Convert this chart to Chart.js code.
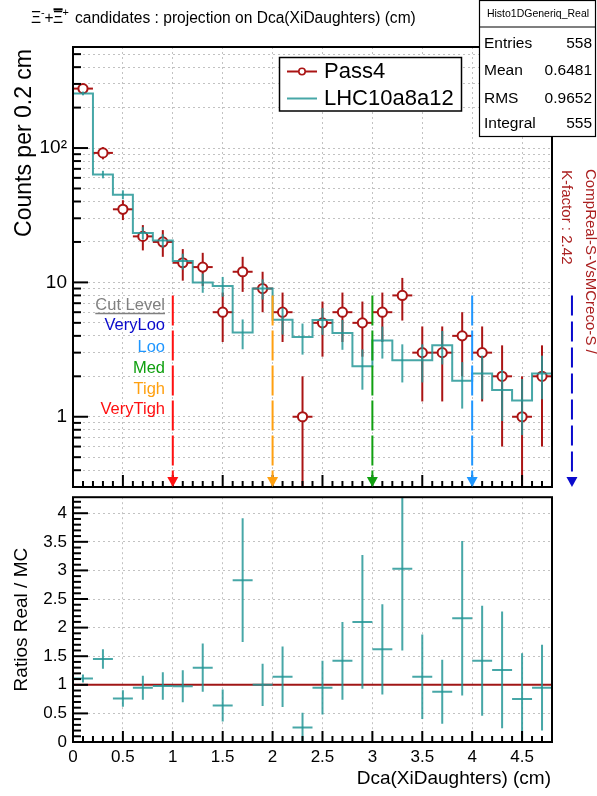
<!DOCTYPE html>
<html><head><meta charset="utf-8">
<script src="https://cdn.jsdelivr.net/npm/chart.js@4.4.1/dist/chart.umd.min.js"></script>
<style>
html,body{margin:0;padding:0;background:#fff;width:597px;height:796px;overflow:hidden}
canvas{position:absolute;left:0}
#topc{top:0}
#botc{top:481px}
</style></head><body>
<canvas id="topc" width="597" height="507"></canvas>
<canvas id="botc" width="597" height="316"></canvas>
<script>
const FONT = '"Liberation Sans", Arial, Helvetica, sans-serif';

// ---------------- data ----------------
const xMin = 0, xMax = 4.8;
const binWidth = 0.2;
const binCenters = [0.1,0.3,0.5,0.7,0.9,1.1,1.3,1.5,1.7,1.9,2.1,2.3,2.5,2.7,2.9,3.1,3.3,3.5,3.7,3.9,4.1,4.3,4.5,4.7];
const pass4    = [277,92,35,22,20,14,13,6,12,9,6,1,5,6,5,6,8,3,3,4,3,2,1,2];
const pass4Err = [16.6,9.6,5.9,4.7,4.5,3.7,3.6,2.4,3.5,3.0,2.4,1.0,2.2,2.4,2.2,2.4,2.8,1.7,1.7,2.0,1.7,1.4,1.0,1.4];
const mcLHC    = [255,63.6,45,23.3,20.5,14.4,10,9.4,4.24,9,5.27,3.92,5.25,4.2,2.38,3.7,2.63,2.63,3.4,1.85,2.1,1.58,1.32,2.1];
const mcErr    = [8.2,4.1,3.45,2.48,2.33,1.95,1.63,1.58,1.06,1.54,1.18,1.02,1.18,1.05,0.79,0.99,0.83,0.83,0.95,0.70,0.75,0.65,0.59,0.75];
const ratio    = [1.11,1.45,0.76,0.95,0.98,0.975,1.30,0.64,2.83,1.0,1.14,0.255,0.95,1.42,2.10,1.62,3.03,1.14,0.88,2.165,1.42,1.26,0.75,0.95];
const ratioErr = [0.07,0.17,0.145,0.21,0.24,0.28,0.42,0.28,1.08,0.37,0.53,0.255,0.47,0.68,1.17,0.79,1.43,0.74,0.56,1.35,0.96,1.02,0.80,0.75];

const yTopMin = 0.304, yTopMax = 565;
const yTopTicks = [0.4,0.5,0.6,0.7,0.8,0.9,1,2,3,4,5,6,7,8,9,10,20,30,40,50,60,70,80,90,100,200,300,400,500];
const yTopLabels = {1:'1', 10:'10', 100:'10\u00B2'};
const xTickLabels = [0,0.5,1,1.5,2,2.5,3,3.5,4,4.5];
const yBotMin = 0, yBotMax = 4.28;
const yBotTicks = [0,0.5,1,1.5,2,2.5,3,3.5,4];

const cutValues = [1,2,3,4,5];
const cutNames  = ['VeryTigh','Tigh','Med','Loo','VeryLoo'];
const cutArrowTop = 8;
const statsTitle = 'Histo1DGeneriq_Real';
const statsRows = [['Entries','558'],['Mean','0.6481'],['RMS','0.9652'],['Integral','555']];
const legendNames = ['Pass4','LHC10a8a12'];

// ---------------- styles ----------------
const RED = '#aa1414';
const TEAL = 'rgba(36,150,150,0.84)';
const GRID = '#c2c2c2';
const cutColors = {VeryTigh:'#ff1010', Tigh:'#ffa010', Med:'#10a010', Loo:'#1e96ff', VeryLoo:'#0a0acc'};
const cutDash = {VeryTigh:[30,5], Tigh:[30,5], Med:[30,5], Loo:[30,5], VeryLoo:[20,6]};

function seg(ctx,x1,y1,x2,y2){ctx.beginPath();ctx.moveTo(x1,y1);ctx.lineTo(x2,y2);ctx.stroke();}
function isDecade(v){const l=Math.log10(v);return Math.abs(l-Math.round(l))<1e-9;}
function fitFont(ctx, text, width){ ctx.font = `100px ${FONT}`; return 100*width/ctx.measureText(text).width; }

const stepPts = binCenters.map((c,i)=>({x:c-binWidth/2, y:mcLHC[i]}));
stepPts.push({x:binCenters[binCenters.length-1]+binWidth/2, y:mcLHC[mcLHC.length-1]});
const pass4Pts = binCenters.map((c,i)=>({x:c, y:pass4[i]}));

const topPlugin = {
  id:'topDeco',
  beforeDatasetsDraw(chart){
    const {ctx, chartArea:a, scales:{x,y}} = chart;
    ctx.save();
    ctx.beginPath(); ctx.rect(a.left,a.top,a.right-a.left,a.bottom-a.top); ctx.clip();
    ctx.strokeStyle = RED; ctx.lineWidth = 2;
    binCenters.forEach((c,i)=>{
      const v = pass4[i], e = pass4Err[i];
      const px = x.getPixelForValue(c), py = y.getPixelForValue(v);
      const lo = (v-e) > yTopMin ? y.getPixelForValue(v-e) : a.bottom+4;
      const hi = y.getPixelForValue(v+e);
      seg(ctx, px, lo, px, hi);
      seg(ctx, x.getPixelForValue(c-binWidth/2), py, x.getPixelForValue(c+binWidth/2), py);
    });
    ctx.restore();
  },
  afterDatasetsDraw(chart){
    const {ctx, chartArea:a, scales:{x,y}} = chart;
    ctx.save();
    ctx.beginPath(); ctx.rect(a.left,a.top,a.right-a.left,a.bottom-a.top); ctx.clip();
    ctx.strokeStyle = TEAL; ctx.lineWidth = 2;
    binCenters.forEach((c,i)=>{
      const v = mcLHC[i], e = mcErr[i];
      const px = x.getPixelForValue(c);
      const lo = (v-e) > yTopMin ? y.getPixelForValue(v-e) : a.bottom+4;
      seg(ctx, px, lo, px, y.getPixelForValue(v+e));
    });
    ctx.restore();
  },
  afterDraw(chart){
    const {ctx, chartArea:a, scales:{x,y}} = chart;
    ctx.save();
    // frame / axes
    ctx.strokeStyle = '#000'; ctx.lineWidth = 2;
    ctx.beginPath();
    ctx.moveTo(a.left,a.top); ctx.lineTo(a.left,a.bottom); ctx.lineTo(a.right,a.bottom); ctx.lineTo(a.right,a.top); ctx.closePath();
    ctx.stroke();
    // inward ticks
    ctx.lineWidth = 2;
    yTopTicks.forEach(v=>{ const py = y.getPixelForValue(v); seg(ctx, a.left, py, a.left+(isDecade(v)?15:8), py); });
    for(let k=1;k<48;k++){ const px = x.getPixelForValue(k*0.1); seg(ctx, px, a.bottom, px, a.bottom-(k%5===0?12:6)); }

    // cut arrows
    const pTop = y.getPixelForValue(cutArrowTop);
    cutValues.forEach((cv,i)=>{
      const name = cutNames[i], col = cutColors[name];
      const px = x.getPixelForValue(cv);
      ctx.strokeStyle = col; ctx.fillStyle = col; ctx.lineWidth = 2;
      ctx.setLineDash(cutDash[name]);
      seg(ctx, px, pTop, px, a.bottom-9);
      ctx.setLineDash([]);
      ctx.beginPath(); ctx.moveTo(px-5.5, a.bottom-10); ctx.lineTo(px+5.5, a.bottom-10); ctx.lineTo(px, a.bottom); ctx.closePath(); ctx.fill();
    });

    // cut level text
    ctx.textAlign = 'right'; ctx.textBaseline = 'middle';
    ctx.font = `16.5px ${FONT}`;
    ctx.fillStyle = '#808080';
    ctx.fillText('Cut Level', 165, 305);
    const wcl = ctx.measureText('Cut Level').width;
    ctx.strokeStyle = '#808080'; ctx.lineWidth = 1.5; seg(ctx, 165-wcl, 313.5, 165, 313.5);
    const rows = ['VeryLoo','Loo','Med','Tigh','VeryTigh'];
    const rowY = [325, 347, 368, 389, 409];
    rows.forEach((r,i)=>{ ctx.fillStyle = cutColors[r]; ctx.fillText(r, 165, rowY[i]); });

    // legend
    ctx.fillStyle = '#fff'; ctx.fillRect(279.5, 57.5, 182, 53.5);
    ctx.strokeStyle = '#000'; ctx.lineWidth = 1.5; ctx.strokeRect(279.5, 57.5, 182, 53.5);
    ctx.lineWidth = 2;
    ctx.strokeStyle = RED; seg(ctx, 287, 71.5, 317, 71.5);
    ctx.beginPath(); ctx.arc(302, 71.5, 3.2, 0, Math.PI*2); ctx.fillStyle='#fff'; ctx.fill(); ctx.lineWidth=1.6; ctx.stroke();
    ctx.lineWidth = 2; ctx.strokeStyle = TEAL; seg(ctx, 287, 98.5, 317, 98.5);
    ctx.fillStyle = '#000'; ctx.textAlign = 'left'; ctx.textBaseline = 'middle';
    ctx.font = `22px ${FONT}`;
    ctx.fillText(legendNames[0], 324, 72);
    ctx.fillText(legendNames[1], 324, 99);

    // stats box
    ctx.fillStyle = '#fff'; ctx.fillRect(479.5, 0.5, 116, 136);
    ctx.strokeStyle = '#000'; ctx.lineWidth = 1.2; ctx.strokeRect(479.5, 0.5, 116, 136);
    seg(ctx, 479.5, 27, 595.5, 27);
    ctx.fillStyle = '#000'; ctx.textAlign = 'center'; ctx.font = `10.5px ${FONT}`;
    ctx.fillText(statsTitle, 538, 14.5);
    ctx.font = `15.5px ${FONT}`;
    const sy = [43.5, 71, 98.5, 124];
    statsRows.forEach((r,i)=>{
      ctx.textAlign='left'; ctx.fillText(r[0], 484, sy[i]);
      ctx.textAlign='right'; ctx.fillText(r[1], 592, sy[i]);
    });

    // main title
    ctx.textBaseline = 'alphabetic'; ctx.textAlign = 'left'; ctx.fillStyle = '#000';
    const mainT = 'candidates : projection on Dca(XiDaughters) (cm)';
    const ts = fitFont(ctx, mainT, 341);
    ctx.font = `${ts}px ${FONT}`;
    ctx.fillText('\u039E', 31, 23);
    ctx.font = `${ts*0.7}px ${FONT}`; ctx.fillText('-', 41, 16);
    ctx.font = `${ts}px ${FONT}`; ctx.fillText('+', 44.5, 23);
    const wXi = ctx.measureText('\u039E').width;
    ctx.fillText('\u039E', 53, 23);
    ctx.fillRect(53.5, 8.3, wXi-1, 2.2);
    ctx.font = `${ts*0.7}px ${FONT}`; ctx.fillText('+', 62.5, 16);
    ctx.font = `${ts}px ${FONT}`;
    ctx.fillText(mainT, 75, 23);

    // y title
    ctx.save(); ctx.translate(30.5, 49); ctx.rotate(-Math.PI/2);
    ctx.font = `23px ${FONT}`; ctx.textAlign='right'; ctx.textBaseline='alphabetic'; ctx.fillStyle='#000';
    ctx.fillText('Counts per 0.2 cm', 0, 0);
    ctx.restore();

    // right side rotated text
    ctx.fillStyle = '#aa2020';
    const r1 = 'CompReal-S-VsMCreco-S /', r2 = 'K-factor : 2.42';
    const rs = fitFont(ctx, r1, 185);
    ctx.font = `${rs}px ${FONT}`;
    ctx.save(); ctx.translate(590.5, 169); ctx.rotate(Math.PI/2); ctx.textAlign='left'; ctx.textBaseline='middle';
    ctx.fillText(r1, 0, 0); ctx.restore();
    ctx.save(); ctx.translate(566.5, 170); ctx.rotate(Math.PI/2); ctx.textAlign='left'; ctx.textBaseline='middle';
    ctx.fillText(r2, 0, 0); ctx.restore();

    ctx.restore();
  }
};

new Chart(document.getElementById('topc'), {
  type:'scatter',
  data:{datasets:[
    {label:legendNames[1], type:'line', data:stepPts, stepped:'before', borderColor:TEAL, borderWidth:2, pointRadius:0, fill:false, order:1},
    {label:legendNames[0], data:pass4Pts, showLine:false, pointStyle:'circle', pointRadius:4.6, borderWidth:2, borderColor:RED, backgroundColor:'#fff', order:2}
  ]},
  options:{
    responsive:false, animation:false, events:[],
    layout:{padding:{left:0,right:45,top:47,bottom:0}},
    plugins:{legend:{display:false}, tooltip:{enabled:false}},
    scales:{
      x:{type:'linear', min:xMin, max:xMax,
         afterFit(s){s.height=20;},
         afterBuildTicks(s){s.ticks = xTickLabels.filter(v=>v>0).map(v=>({value:v}));},
         ticks:{display:false},
         grid:{color:GRID, lineWidth:1, drawTicks:false},
         border:{display:false, dash:[2,3]}},
      y:{type:'logarithmic', min:yTopMin, max:yTopMax,
         afterFit(s){s.width=73;},
         afterBuildTicks(s){s.ticks = yTopTicks.map(v=>({value:v}));},
         ticks:{autoSkip:false, padding:6, color:'#000', font:{family:FONT, size:19, lineHeight:1.2},
                callback:(v)=> yTopLabels[v] || ''},
         grid:{color:GRID, lineWidth:1, drawTicks:false},
         border:{display:false, dash:[2,3]}}
    }
  },
  plugins:[topPlugin]
});

// ---------------- bottom ratio panel ----------------
const botPlugin = {
  id:'botDeco',
  afterDatasetsDraw(chart){
    const {ctx, chartArea:a, scales:{x,y}} = chart;
    ctx.save();
    ctx.beginPath(); ctx.rect(a.left,a.top,a.right-a.left,a.bottom-a.top); ctx.clip();
    ctx.strokeStyle = TEAL; ctx.lineWidth = 2;
    binCenters.forEach((c,i)=>{
      const r = ratio[i], e = ratioErr[i];
      const px = x.getPixelForValue(c), py = y.getPixelForValue(r);
      seg(ctx, px, y.getPixelForValue(r-e), px, y.getPixelForValue(r+e));
      seg(ctx, x.getPixelForValue(c-binWidth/2), py, x.getPixelForValue(c+binWidth/2), py);
    });
    ctx.restore();
  },
  afterDraw(chart){
    const {ctx, chartArea:a, scales:{x,y}} = chart;
    ctx.save();
    ctx.strokeStyle='#000'; ctx.lineWidth=2;
    ctx.strokeRect(a.left, a.top, a.right-a.left, a.bottom-a.top);
    for(let k=1;k<=42;k++){ const py=y.getPixelForValue(k*0.1); seg(ctx, a.left, py, a.left+(k%5===0?15:8), py); }
    for(let k=1;k<48;k++){ const px=x.getPixelForValue(k*0.1); seg(ctx, px, a.bottom, px, a.bottom-(k%5===0?11:6)); }
    // titles
    ctx.fillStyle='#000'; ctx.font=`19px ${FONT}`;
    ctx.textAlign='right'; ctx.textBaseline='middle';
    ctx.fillText('Dca(XiDaughters) (cm)', 551, a.bottom+37);
    ctx.save(); ctx.translate(26.7, (a.top+a.bottom)/2); ctx.rotate(-Math.PI/2);
    ctx.textAlign='center'; ctx.textBaseline='alphabetic';
    ctx.fillText('Ratios Real / MC', 0, 0); ctx.restore();
    ctx.restore();
  }
};

new Chart(document.getElementById('botc'), {
  type:'scatter',
  data:{datasets:[
    {label:'unity', type:'line', data:[{x:xMin,y:1},{x:xMax,y:1}], borderColor:'#a01616', borderWidth:2, pointRadius:0, fill:false},
    {label:'ratio', data:binCenters.map((c,i)=>({x:c,y:ratio[i]})), pointRadius:0, showLine:false}
  ]},
  options:{
    responsive:false, animation:false, events:[],
    layout:{padding:{left:0,right:45,top:0,bottom:0}},
    plugins:{legend:{display:false}, tooltip:{enabled:false}},
    scales:{
      x:{type:'linear', min:xMin, max:xMax,
         afterFit(s){s.height=55;},
         afterBuildTicks(s){s.ticks = xTickLabels.map(v=>({value:v}));},
         ticks:{autoSkip:false, maxRotation:0, padding:5, color:'#000', font:{family:FONT, size:17, lineHeight:1.2},
                callback:(v)=>String(v)},
         grid:{color:GRID, lineWidth:1, drawTicks:false},
         border:{display:false, dash:[2,3]}},
      y:{type:'linear', min:yBotMin, max:yBotMax,
         afterFit(s){s.width=73;},
         afterBuildTicks(s){s.ticks = yBotTicks.map(v=>({value:v}));},
         ticks:{autoSkip:false, padding:6, color:'#000', font:{family:FONT, size:17, lineHeight:1.2},
                callback:(v)=>String(v)},
         grid:{color:GRID, lineWidth:1, drawTicks:false},
         border:{display:false, dash:[2,3]}}
    }
  },
  plugins:[botPlugin]
});
</script>
</body></html>
